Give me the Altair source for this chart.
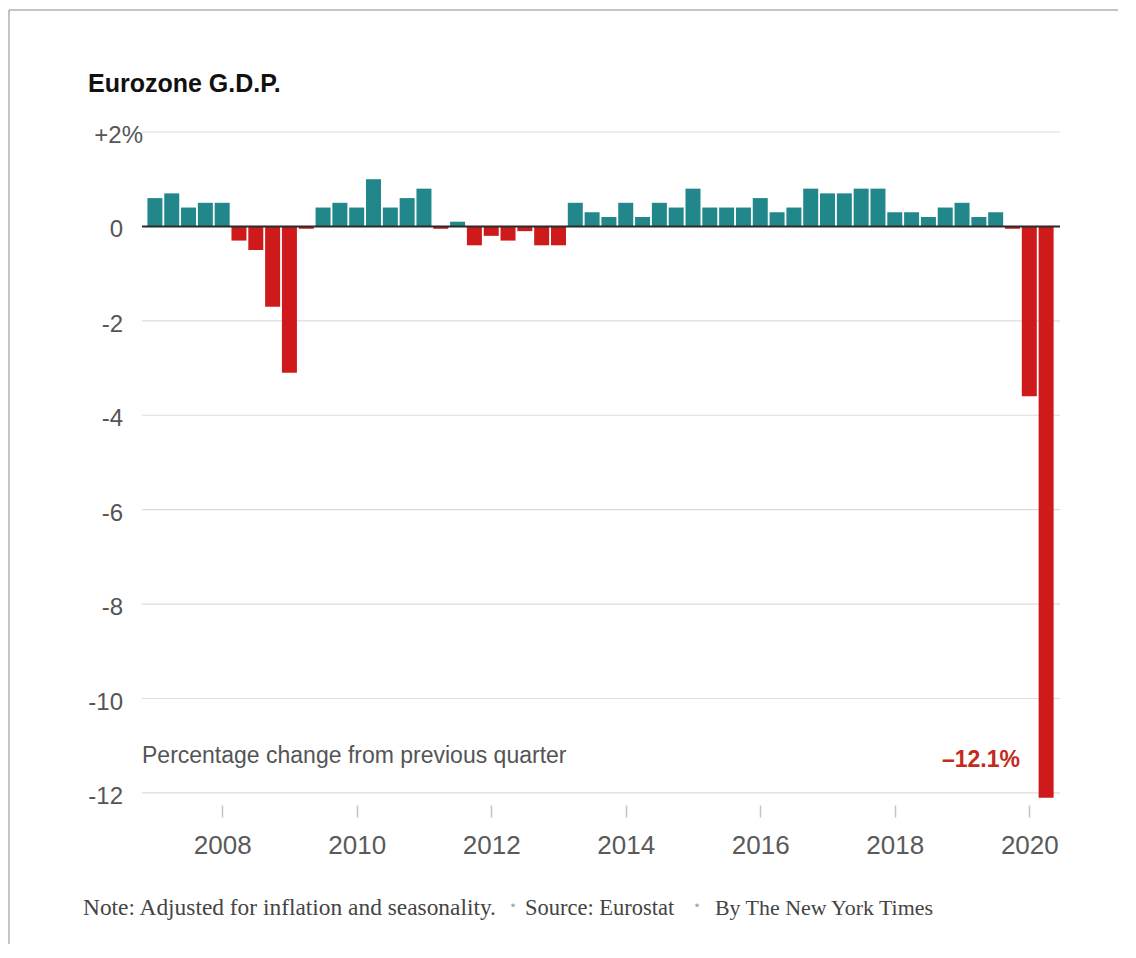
import altair as alt
import pandas as pd

# ---- data -------------------------------------------------------------
years = list(range(2007, 2021))
gdp_change = [
    0.6, 0.7, 0.4, 0.5,      # 2007
    0.5, -0.3, -0.5, -1.7,   # 2008
    -3.1, -0.05, 0.4, 0.5,   # 2009
    0.4, 1.0, 0.4, 0.6,      # 2010
    0.8, -0.05, 0.1, -0.4,   # 2011
    -0.2, -0.3, -0.1, -0.4,  # 2012
    -0.4, 0.5, 0.3, 0.2,     # 2013
    0.5, 0.2, 0.5, 0.4,      # 2014
    0.8, 0.4, 0.4, 0.4,      # 2015
    0.6, 0.3, 0.4, 0.8,      # 2016
    0.7, 0.7, 0.8, 0.8,      # 2017
    0.3, 0.3, 0.2, 0.4,      # 2018
    0.5, 0.2, 0.3, -0.05,    # 2019
    -3.6, -12.1,             # 2020
]
x_tick_years = [2008, 2010, 2012, 2014, 2016, 2018, 2020]
y_tick_values = [2, 0, -2, -4, -6, -8, -10, -12]
y_tick_labels = ["+2%", "0", "-2", "-4", "-6", "-8", "-10", "-12"]
grid_values = [2, -2, -4, -6, -8, -10, -12]

title_text = "Eurozone G.D.P."
subtitle_text = "Percentage change from previous quarter"
callout_text = "\u201312.1%"
note_text = "Note: Adjusted for inflation and seasonality."
source_text = "Source: Eurostat"
byline_text = "By The New York Times"

# ---- tables -----------------------------------------------------------
quarters = []
for i, v in enumerate(gdp_change):
    yr = years[0] + i // 4
    q = i % 4
    quarters.append({"t": yr + q / 4.0, "v": v, "sign": "neg" if v < 0 else "pos"})
bars_df = pd.DataFrame(quarters)
ylab_df = pd.DataFrame({"v": y_tick_values, "lab": y_tick_labels})
grid_df = pd.DataFrame({"v": grid_values})

TEAL = "#22878a"
RED = "#cf1a1b"
SANS = "Liberation Sans"
SERIF = "Liberation Serif"

W, H = 918, 668

xscale = alt.Scale(domain=[2006.8824, 2020.382], nice=False, zero=False)
yscale = alt.Scale(domain=[-12.15, 2], nice=False, zero=False)

grid = alt.Chart(grid_df).mark_rule(color="#dcdcdc", strokeWidth=1.2).encode(
    y=alt.Y("v:Q", scale=yscale, axis=None), x=alt.value(0), x2=alt.value(W)
)

bars = alt.Chart(bars_df).mark_bar(size=15, orient="vertical").encode(
    x=alt.X("t:Q", scale=xscale, title=None,
            axis=alt.Axis(values=x_tick_years, format="d", grid=False, domain=False,
                          ticks=True, tickSize=12, tickColor="#c4c4c4", tickWidth=1.5,
                          offset=5, labelPadding=15, labelFont=SANS, labelFontSize=26,
                          labelColor="#5a5a5a", labelFlush=False, labelOverlap=False,
                          labelBound=False)),
    y=alt.Y("v:Q", scale=yscale, title=None, axis=None),
    y2=alt.datum(0),
    color=alt.Color("sign:N", scale=alt.Scale(domain=["pos", "neg"], range=[TEAL, RED]),
                    legend=None),
)

zero_line = alt.Chart(pd.DataFrame({"v": [0]})).mark_rule(color="#2a2a2a", strokeWidth=2).encode(
    y=alt.Y("v:Q", scale=yscale, axis=None), x=alt.value(0), x2=alt.value(W)
)

ylabels_main = alt.Chart(ylab_df).transform_filter("datum.v != 2").mark_text(
    align="right", baseline="middle", dy=4, font=SANS, fontSize=24, color="#555555"
).encode(y=alt.Y("v:Q", scale=yscale, axis=None), x=alt.value(-19), text="lab:N")

ylabels_top = alt.Chart(ylab_df).transform_filter("datum.v == 2").mark_text(
    align="right", baseline="middle", dy=4, font=SANS, fontSize=24, color="#555555"
).encode(y=alt.Y("v:Q", scale=yscale, axis=None), x=alt.value(1), text="lab:N")


def label(txt, x, y, **kw):
    return alt.Chart(pd.DataFrame({"s": [txt]})).mark_text(baseline="alphabetic", **kw).encode(
        x=alt.value(x), y=alt.value(y), text="s:N")


title = label(title_text, -54, -40, align="left", font=SANS, fontSize=25,
              fontWeight="bold", color="#111111")
subtitle = label(subtitle_text, 0, 631, align="left", font=SANS, fontSize=23, color="#555555")
callout = label(callout_text, 878, 635, align="right", font=SANS, fontSize=23,
                fontWeight="bold", color="#c42a20")
note = label(note_text, -59, 783, align="left", font=SERIF, fontSize=23.4, color="#444444")
dot1 = label("\u00b7", 371, 783, align="center", font=SERIF, fontSize=30, color="#b0b0b0")
source = label(source_text, 383, 783, align="left", font=SERIF, fontSize=22.5, color="#444444")
dot2 = label("\u00b7", 555, 783, align="center", font=SERIF, fontSize=30, color="#b0b0b0")
byline = label(byline_text, 573, 783, align="left", font=SERIF, fontSize=21.9, color="#444444")

border_left = alt.Chart(pd.DataFrame({"k": [0]})).mark_rule(color="#8a8a8a", strokeWidth=1).encode(
    x=alt.value(-133), y=alt.value(-122), y2=alt.value(812))
border_top = alt.Chart(pd.DataFrame({"k": [0]})).mark_rule(color="#8a8a8a", strokeWidth=1).encode(
    x=alt.value(-133), x2=alt.value(976), y=alt.value(-122))

chart = alt.layer(
    border_left, border_top, grid, bars, zero_line, ylabels_main, ylabels_top,
    title, subtitle, callout, note, dot1, source, dot2, byline,
).properties(
    width=W, height=H,
    autosize=alt.AutoSizeParams(type="none"),
    padding={"left": 134, "top": 124, "right": 60, "bottom": 144},
    background="white",
).configure_view(stroke=None)

chart.save("out.html", embed_options={"renderer": "svg", "actions": False})
